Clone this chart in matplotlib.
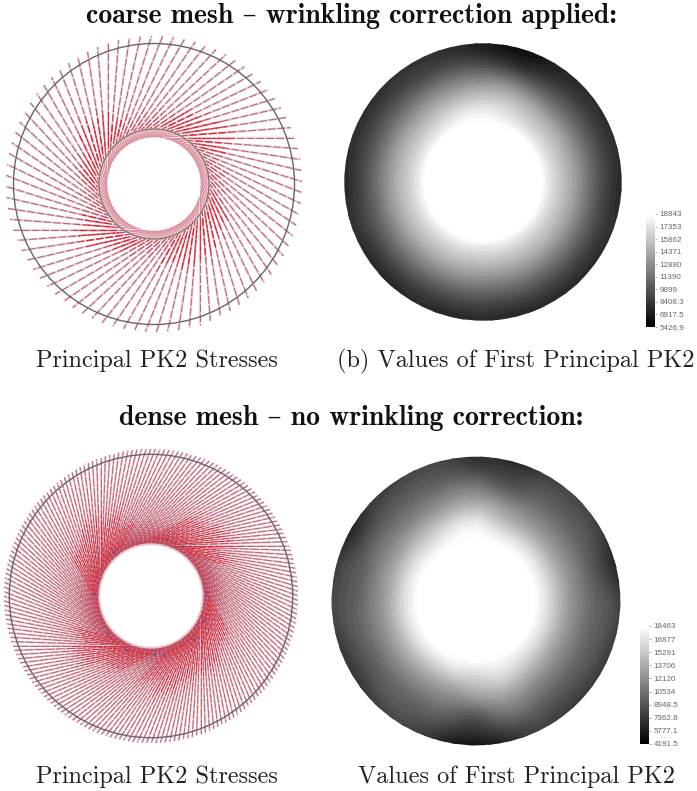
import numpy as np
import matplotlib
matplotlib.use("Agg")
import matplotlib.pyplot as plt
import matplotlib.tri as mtri
from matplotlib.collections import LineCollection
from matplotlib.patches import Circle

W, H = 697, 791

# ---------- text ----------
titles = ["coarse mesh \u2013 wrinkling correction applied:",
          "dense mesh \u2013 no wrinkling correction:"]
captions = ["Principal PK2 Stresses", "(b) Values of First Principal PK2",
            "Principal PK2 Stresses", "Values of First Principal PK2"]

# ---------- legend values ----------
coarse_ticks = [18843, 17353, 15862, 14371, 12880, 11390, 9899, 8408.3, 6917.5, 5426.9]
dense_ticks = [18463, 16877, 15291, 13706, 12120, 10534, 8948.5, 7362.8, 5777.1, 4191.5]

# ---------- stress field (polar samples) ----------
field_angles = list(range(0, 360, 15))

coarse_radii = [58, 72, 85, 100, 115, 128, 146]
coarse_field = [
    [18843] * 24,
    [16500, 16500, 16500, 16500, 16800, 17300, 17600, 17500, 17000, 16600, 16500, 16500,
     16500, 16500, 16500, 16500, 16500, 16500, 16500, 16500, 16500, 16500, 16500, 16500],
    [14700, 14700, 14700, 14700, 15100, 15500, 15600, 15300, 15000, 14700, 14700, 14700,
     14700, 14700, 14700, 14700, 14700, 14700, 14700, 14700, 14700, 14700, 14700, 14700],
    [12300, 12300, 12200, 12000, 12200, 12700, 12900, 12700, 12500, 12300, 12300, 12300,
     12300, 12300, 12300, 12300, 12300, 12300, 12300, 12300, 12300, 12300, 12300, 12300],
    [9900, 10000, 9900, 9700, 9200, 9100, 9800, 10100, 10000, 10000, 10000, 10000,
     10000, 10000, 10000, 10000, 10000, 10000, 10000, 10000, 10000, 10000, 10000, 9900],
    [8300, 8500, 8400, 8200, 7500, 7000, 7700, 8400, 8600, 8600, 8500, 8500,
     8400, 8600, 8400, 8300, 8400, 8300, 8400, 8300, 8400, 8400, 8400, 8400],
    [7200, 7500, 7300, 7700, 6800, 5700, 6500, 7600, 7800, 7700, 7200, 7500,
     7100, 7500, 7200, 7100, 7400, 7000, 7100, 6900, 7100, 7100, 7500, 7500],
]

dense_radii = [58, 70, 85, 100, 115, 130, 150]
dense_field = [
    [18463] * 24,
    [16800, 16800, 16800, 16900, 17000, 17300, 18000, 17800, 17100, 16800, 16800, 16800,
     16800, 16800, 16800, 16800, 16800, 16900, 16800, 17300, 17100, 16900, 16800, 16800],
    [14000, 14000, 14000, 14000, 14100, 14700, 16000, 15500, 14700, 14200, 14000, 14000,
     14000, 14000, 14000, 14000, 14000, 14100, 14600, 15300, 14900, 14300, 14000, 14000],
    [11750, 11750, 11750, 11750, 11800, 12300, 13200, 12800, 12100, 11800, 11750, 11750,
     11750, 11750, 11750, 11750, 11750, 11700, 12000, 12900, 12400, 11900, 11750, 11750],
    [10070, 9800, 10000, 10070, 10000, 9500, 10700, 10600, 10300, 10070, 10000, 9800,
     10000, 10070, 9900, 10070, 10070, 9800, 9000, 10700, 10500, 10070, 10070, 10070],
    [8950, 8000, 8800, 8950, 8800, 7800, 8200, 9000, 8950, 8700, 8000, 8700,
     8950, 8800, 8500, 8950, 8950, 8000, 7000, 8400, 8800, 8600, 8800, 8950],
    [6900, 5800, 6800, 7800, 6900, 5800, 6600, 7800, 7700, 6800, 5800, 6800,
     7800, 6900, 6400, 6900, 7800, 5600, 4400, 6200, 7600, 6900, 6600, 6900],
]

# ---------- principal-stress spokes ----------
spoke_counts = [84, 200]
# outward reach (px) of the saturated red part, per tangent-point sector (0 = none)
coarse_red_reach = [88, 80, 0, 0, 0, 78, 92, 80, 0, 0, 0, 74,
                    86, 92, 76, 0, 0, 78, 92, 76, 0, 0, 80, 90]
dense_red_reach = [92, 84, 0, 0, 0, 82, 96, 88, 0, 0, 74, 88,
                   96, 86, 0, 0, 0, 80, 94, 80, 0, 84, 96, 90]
dense_blue_angles = [74, 58, 177, 315, 273, 282, 336, 220, 4, 130, 245]
dense_blue_radii = [59, 59, 57, 61, 58, 60, 58, 57, 56, 58, 60]

SERIF = ["cmr10", "DejaVu Serif"]
BOLD = ["cmb10", "DejaVu Serif"]
plt.rcParams["axes.unicode_minus"] = False

fig = plt.figure(figsize=(W / 100, H / 100), dpi=100, facecolor="white")


def panel(cx, cy, half):
    ax = fig.add_axes([(cx - half) / W, 1 - (cy + half) / H, 2 * half / W, 2 * half / H])
    ax.set_xlim(-half, half)
    ax.set_ylim(-half, half)
    ax.axis("off")
    return ax


def along(th, tangent, r):
    """Point at radius r on the line tangent to the hole at angle th."""
    t = np.sqrt(np.maximum(r ** 2 - tangent ** 2, 0))
    return tangent * np.cos(th) + t * np.sin(th), tangent * np.sin(th) - t * np.cos(th)


def draw_spokes(ax, n, tangent, outer_r, tip_r, reach, inner_ring, pink, lw_pink, dark, lw_dark,
                dash, red_step, ring_r, inner_lw):
    th = np.deg2rad(np.arange(n) * 360.0 / n)

    def seg(r0, r1, angles):
        return [[along(a, tangent, r0), along(a, tangent, r1)] for a in angles]

    styles = [((k * 3.7) % (dash[0] + dash[1]), dash) for k in range(n)]
    ax.add_collection(LineCollection(seg(ring_r, tip_r, th), colors=pink,
                                     linewidths=lw_pink, zorder=1))
    ax.add_collection(LineCollection(seg(tangent + 1, ring_r, th), colors="#dc94a2",
                                     linewidths=inner_lw, zorder=1))
    ax.add_collection(LineCollection(seg(ring_r, tip_r, th), colors=dark,
                                     linewidths=lw_dark, linestyles=styles, zorder=2))
    mids = []
    for k, a in enumerate(th):
        base = reach[int(np.rad2deg(a) // 15) % 24] or 66
        mids.append([along(a, tangent, ring_r), along(a, tangent, base + 5 * (k % 3))])
    ax.add_collection(LineCollection(mids, colors="#d03048", linewidths=lw_dark,
                                     linestyles=styles, alpha=0.5, zorder=3))
    reds = []
    for a in th[::red_step]:
        r_end = reach[int(np.rad2deg(a) // 15) % 24]
        if r_end:
            reds.append([along(a, tangent, ring_r + 4), along(a, tangent, r_end)])
    ax.add_collection(LineCollection(reds, colors="#f01020", linewidths=lw_dark * 1.1,
                                     linestyles=[(0, (6, 2))], alpha=0.75, zorder=3))
    ax.add_patch(Circle((0, 0), outer_r, fc="none", ec="#66666a", lw=1.0, zorder=5))
    if inner_ring:
        ax.add_patch(Circle((0, 0), inner_ring, fc="none", ec="#7a6a70", lw=0.8, zorder=5))


def draw_field(ax, radii, table, vmin, vmax, radius):
    ang = np.deg2rad(field_angles)
    xs, ys, zs = [], [], []
    for r, row in zip(radii, table):
        for a, v in zip(ang, row):
            xs.append(r * np.cos(a))
            ys.append(r * np.sin(a))
            zs.append(v)
    xs, ys, zs = np.array(xs), np.array(ys), np.array(zs, float)
    tri = mtri.Triangulation(xs, ys)
    hole = np.hypot(xs[tri.triangles].mean(axis=1), ys[tri.triangles].mean(axis=1)) < radii[0] - 1
    tri.set_mask(hole)
    rx, rz = mtri.UniformTriRefiner(tri).refine_field(zs, subdiv=3)
    levels = np.linspace(vmin, vmax, 34)
    cs = ax.tricontourf(rx, np.clip(rz, vmin, vmax * 0.9999), levels=levels, cmap="gray",
                        vmin=vmin, vmax=vmax)
    cs.set_clip_path(Circle((0, 0), radius, transform=ax.transData))
    ax.add_patch(Circle((0, 0), radii[0] + 1, fc="white", ec="none", zorder=5))


def draw_bar(x0, x1, y0, y1, ticks, pad):
    ax = fig.add_axes([x0 / W, 1 - y1 / H, (x1 - x0) / W, (y1 - y0) / H])
    vals = np.linspace(ticks[-1], ticks[0], 120)
    ax.pcolormesh([0, 1], vals, vals[:-1, None], cmap="gray", shading="flat")
    ax.set_xticks([])
    ax.yaxis.tick_right()
    ax.set_yticks(ticks)
    ax.set_yticklabels([f"{t:g}" for t in ticks], family="Liberation Sans", fontsize=5.8,
                       color="#666666")
    ax.tick_params(axis="y", length=1.5, width=0.5, color="#888888", pad=pad)
    ax.set_ylim(ticks[-1], ticks[0])
    for s in ax.spines.values():
        s.set_visible(False)


# coarse mesh
ax = panel(154, 184, 156)
draw_spokes(ax, spoke_counts[0], 46, 140.5, 148, coarse_red_reach, 55,
            "#f2d0d6", 1.6, "#b06c7c", 0.8, (7, 1.8), 1, 56, 1.0)

ax = panel(483, 182, 142)
draw_field(ax, coarse_radii, coarse_field, coarse_ticks[-1], coarse_ticks[0], 138.7)
draw_bar(646, 655, 214, 327, coarse_ticks, 1.8)

# dense mesh
ax = panel(151, 596, 156)
draw_spokes(ax, spoke_counts[1], 50, 141.7, 147, dense_red_reach, None,
            "#f0c4cc", 1.5, "#a85a6c", 0.6, (11, 1.6), 2, 53, 0.2)
ba = np.deg2rad(dense_blue_angles)
ax.scatter(np.array(dense_blue_radii) * np.cos(ba), np.array(dense_blue_radii) * np.sin(ba),
           s=4, color="#54509c", alpha=0.8, linewidths=0, zorder=6)

ax = panel(476, 601, 148)
draw_field(ax, dense_radii, dense_field, dense_ticks[-1], dense_ticks[0], 144.3)
draw_bar(640, 649, 626, 744, dense_ticks, 1.8)

# text
for s, x, y in [(titles[0], 351.5, 16), (titles[1], 351.5, 418)]:
    fig.text(x / W, 1 - y / H, s, family=BOLD, fontsize=20, ha="center", va="center",
             color="#111111")
for s, x, y in [(captions[0], 157, 361), (captions[1], 516, 361),
                (captions[2], 157, 777), (captions[3], 516, 777)]:
    fig.text(x / W, 1 - y / H, s, family=SERIF, fontsize=17.5, ha="center", va="center",
             color="#222222")

fig.savefig("out.png", dpi=100)
